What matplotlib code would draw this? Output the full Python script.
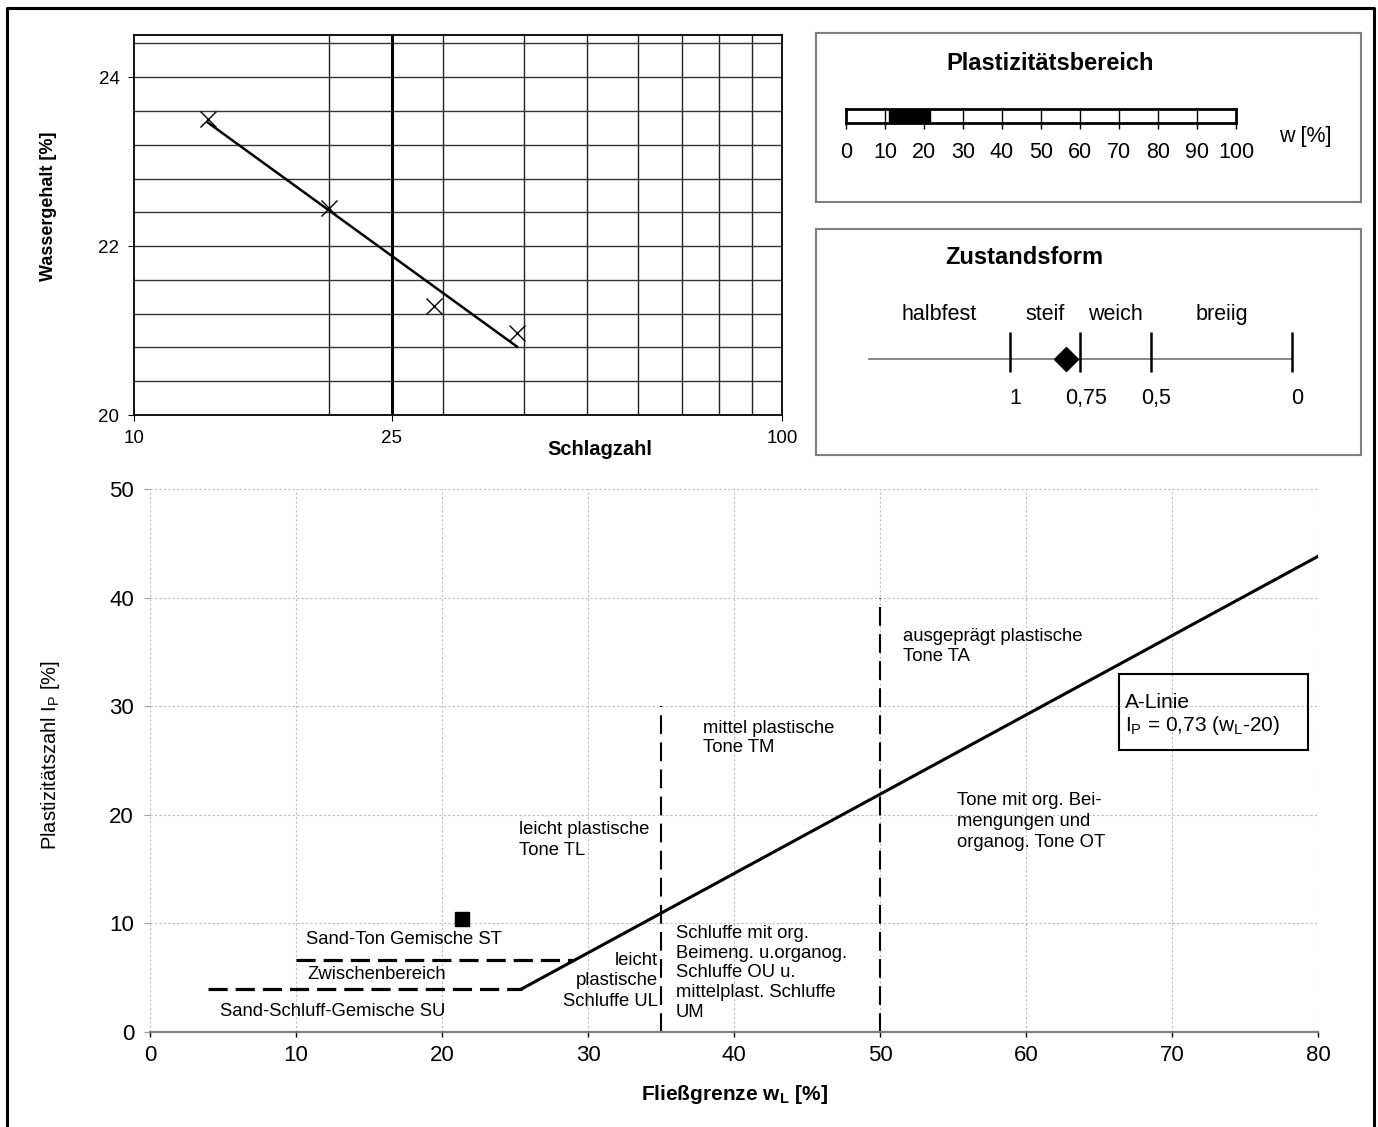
import numpy as np
import matplotlib.pyplot as plt
from matplotlib.lines import Line2D
from matplotlib.patches import Rectangle

plt.rcParams['font.family'] = ['Liberation Sans', 'DejaVu Sans']
plt.rcParams['mathtext.fontset'] = 'custom'
plt.rcParams['mathtext.rm'] = 'Liberation Sans'
plt.rcParams['mathtext.it'] = 'Liberation Sans:italic'
plt.rcParams['mathtext.bf'] = 'Liberation Sans:bold'

# Fliessgrenzenversuch (Casagrande)
schlagzahl = [13, 20, 29, 39]
wassergehalt = [23.51, 22.45, 21.29, 20.97]
schlag_ticks = [10, 25, 100]
schlag_grid = [20, 30, 40, 50, 60, 70, 80, 90]

# Kennwerte
plast_bereich = [10.9, 21.5]      # w_P .. w_L
w_ticks = list(range(0, 101, 10))
probe_wl = 21.4
probe_ip = 10.4
probe_ic = 0.80

# Zustandsform
ic_grenzen = [1.5, 1.0, 0.75, 0.5, 0.0]
ic_ticks = [1.0, 0.75, 0.5, 0.0]
ic_labels = ['1', '0,75', '0,5', '0']
zustand = ['halbfest', 'steif', 'weich', 'breiig']

# Plastizitaetsdiagramm
a_linie_wl = [25.5, 80]
a_linie_ip = [4.0, 43.8]
su_wl = [4, 25.5]
su_ip = [4, 4]
st_wl = [10, 29]
st_ip = [6.6, 6.6]
grenze_wl = [35, 50]
grenze_ip = [30, 40]

W, H = 1378, 1127
fig = plt.figure(figsize=(W / 100, H / 100), dpi=100)


def box(l, t, r, b):
    return [l / W, 1 - b / H, (r - l) / W, (b - t) / H]


# --- Fliessgrenze ---
ax1 = fig.add_axes(box(134, 35, 782, 415))
ax1.set_xscale('log')
ax1.set_xlim(10, 100)
ax1.set_ylim(20, 24.5)
for n in schlag_grid:
    ax1.axvline(n, color='#222222', lw=1, zorder=1)
for w in np.arange(20.4, 24.41, 0.4):
    ax1.axhline(w, color='#333333', lw=1, zorder=1)
ax1.axvline(25, color='black', lw=2.2, zorder=2)
ax1.plot(schlagzahl, wassergehalt, 'x', ms=12, mew=1, color='black', zorder=3)
coef = np.polyfit(np.log10(schlagzahl), wassergehalt, 1)
xs = np.array([schlagzahl[0], schlagzahl[-1]])
ax1.plot(xs, np.polyval(coef, np.log10(xs)), color='black', lw=1.8, zorder=3)
ax1.minorticks_off()
ax1.set_xticks(schlag_ticks)
ax1.set_xticklabels([str(t) for t in schlag_ticks])
ax1.set_yticks([20, 22, 24])
ax1.tick_params(labelsize=13.5, length=4.5, pad=6)
for s in ax1.spines.values():
    s.set_linewidth(1.3)
ax1.set_ylabel('Wassergehalt [%]', fontsize=13, fontweight='bold')
ax1.yaxis.set_label_coords(-0.119, 0.55)
ax1.set_xlabel('Schlagzahl', fontsize=14.5, fontweight='bold')
ax1.xaxis.set_label_coords(0.719, -0.066)

# --- Plastizitaetsbereich ---
axb1 = fig.add_axes(box(816, 33, 1361, 202))
axb1.set_xticks([])
axb1.set_yticks([])
for s in axb1.spines.values():
    s.set_color('#7f7f7f')
    s.set_linewidth(1.5)
axb1.text(0.429, 0.822, 'Plastizitätsbereich', transform=axb1.transAxes,
          ha='center', va='center', fontsize=17, fontweight='bold')
axb1.text(0.897, 0.385, 'w [%]', transform=axb1.transAxes,
          ha='center', va='center', fontsize=15.5)

axbar = fig.add_axes(box(846, 109, 1236, 123))
axbar.set_xlim(0, 100)
axbar.set_ylim(0, 1)
axbar.axvspan(plast_bereich[0], plast_bereich[1], color='black')
for v in w_ticks[1:-1]:
    axbar.axvline(v, color='black', lw=1)
for s in axbar.spines.values():
    s.set_linewidth(2)
axbar.set_yticks([])
axbar.set_xticks(w_ticks)
axbar.tick_params(axis='x', length=4.5, width=1, pad=9, labelsize=15.5)

# --- Zustandsform ---
axz = fig.add_axes(box(816, 229, 1361, 455))
axz.set_xlim(1.688, -0.245)
axz.set_ylim(0, 1)
axz.set_xticks([])
axz.set_yticks([])
for s in axz.spines.values():
    s.set_color('#7f7f7f')
    s.set_linewidth(1.5)
axz.text(0.237, 0.876, 'Zustandsform', transform=axz.transAxes,
         ha='left', va='center', fontsize=17, fontweight='bold')
axz.plot([ic_grenzen[0], ic_grenzen[-1]], [0.425, 0.425], color='#7f7f7f', lw=1.3)
axz.vlines(ic_ticks, 0.367, 0.545, color='black', lw=1.8)
for t, lab in zip(ic_ticks, ic_labels):
    axz.annotate(lab, (t, 0.25), xytext=(4, 0), textcoords='offset points',
                 ha='center', va='center', fontsize=15.5)
for a, b, name in zip(ic_grenzen[:-1], ic_grenzen[1:], zustand):
    axz.text((a + b) / 2, 0.62, name, ha='center', va='center', fontsize=15.5)
axz.plot(probe_ic, 0.425, 'D', ms=12, color='black')

# --- Plastizitaetsdiagramm ---
ax2 = fig.add_axes(box(150, 489, 1318, 1032))
ax2.set_xlim(0, 80)
ax2.set_ylim(0, 50)
ax2.set_xticks(range(0, 81, 10))
ax2.set_yticks(range(0, 51, 10))
ax2.set_axisbelow(True)
ax2.grid(color='#bdbdbd', ls=(0, (2, 2)), lw=0.8)
for k in ['left', 'top', 'right']:
    ax2.spines[k].set_visible(False)
ax2.spines['bottom'].set_color('#808080')
ax2.spines['bottom'].set_linewidth(1.6)
ax2.tick_params(axis='x', length=3.6, width=1, color='black', pad=6, labelsize=16)
ax2.tick_params(axis='y', length=4.5, width=0.8, color='#a0a0a0', pad=7, labelsize=16)

ax2.plot(a_linie_wl, a_linie_ip, color='black', lw=2.2)
ax2.plot(su_wl, su_ip, color='black', lw=2.3, ls=(0, (6, 2.5)))
ax2.plot(st_wl, st_ip, color='black', lw=2.3, ls=(0, (6, 2.5)))
ax2.vlines(grenze_wl, 0, grenze_ip, color='black', lw=1.5, linestyles=[(0, (9, 4))])
ax2.plot(probe_wl, probe_ip, 's', ms=10, color='black')

fs = 13.3
ax2.text(51.6, 35.5, 'ausgeprägt plastische\nTone TA', fontsize=fs, va='center', linespacing=1.3)
ax2.text(37.9, 27.1, 'mittel plastische\nTone TM', fontsize=fs, va='center', linespacing=1.15)
ax2.text(55.3, 19.4, 'Tone mit org. Bei-\nmengungen und\norganog. Tone OT',
         fontsize=fs, va='center', linespacing=1.3)
ax2.text(25.3, 17.7, 'leicht plastische\nTone TL', fontsize=fs, va='center', linespacing=1.3)
ax2.text(10.7, 8.5, 'Sand-Ton Gemische ST', fontsize=fs, va='center')
ax2.text(10.8, 5.25, 'Zwischenbereich', fontsize=fs, va='center')
ax2.text(4.8, 1.85, 'Sand-Schluff-Gemische SU', fontsize=fs, va='center')
ax2.text(34.8, 4.7, 'leicht\nplastische\nSchluffe UL', fontsize=fs, va='center',
         ha='right', linespacing=1.3)
ax2.text(36.0, 5.45, 'Schluffe mit org.\nBeimeng. u.organog.\nSchluffe OU u.\nmittelplast. Schluffe\nUM',
         fontsize=fs, va='center', linespacing=1.2)

ax2.add_patch(Rectangle((66.4, 26.0), 12.9, 7.0, fill=False, ec='black', lw=1.5))
ax2.text(66.8, 29.2, 'A-Linie\nI$_\\mathrm{P}$ = 0,73 (w$_\\mathrm{L}$-20)', fontsize=15,
         va='center', linespacing=1.15)

ax2.set_xlabel('Fließgrenze w$_\\mathbf{L}$ [%]', fontsize=15, fontweight='bold')
ax2.xaxis.set_label_coords(0.5, -0.094)
ax2.set_ylabel('Plastizitätszahl I$_\\mathrm{P}$ [%]', fontsize=14.5)
ax2.yaxis.set_label_coords(-0.075, 0.51)

# Rahmen
fig.add_artist(Line2D([7 / W, 7 / W, 1374 / W, 1374 / W], [0, 1 - 8 / H, 1 - 8 / H, 0],
                      color='black', lw=2.2, transform=fig.transFigure))

fig.savefig('out.png', dpi=100)
